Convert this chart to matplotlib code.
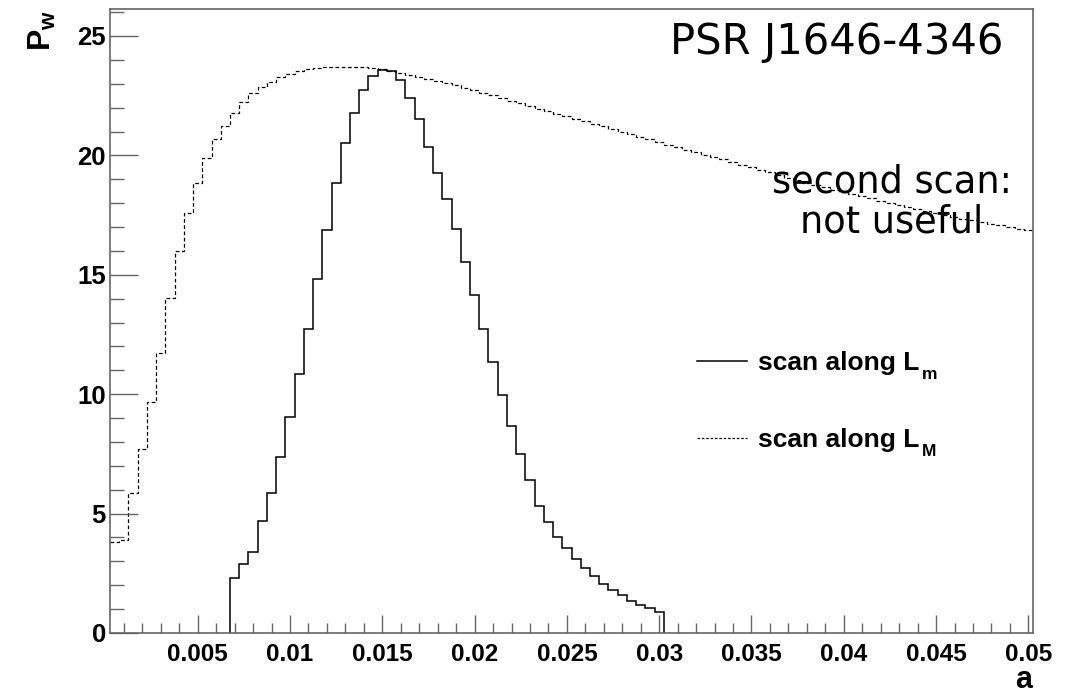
import numpy as np
import matplotlib
matplotlib.use('Agg')
import matplotlib.pyplot as plt
from matplotlib.lines import Line2D
from matplotlib.ticker import MultipleLocator, FuncFormatter
from matplotlib.transforms import IdentityTransform

plt.rcParams['mathtext.fontset'] = 'custom'
plt.rcParams['mathtext.rm'] = 'Liberation Sans:bold'
plt.rcParams['mathtext.it'] = 'Liberation Sans:bold'
plt.rcParams['mathtext.bf'] = 'Liberation Sans:bold'

# histogram binning (bin width 0.0005)
bin_width = 0.0005
scan_m_start = 0.00675
scan_M_start = 0.00025

# scan along L_m (solid), 47 bins
scan_m = [2.29, 2.88, 3.41, 4.68, 5.88, 7.36, 9.06, 10.85, 12.74, 14.82,
          16.89, 18.84, 20.53, 21.78, 22.75, 23.32, 23.58, 23.53, 23.16, 22.42,
          21.51, 20.35, 19.28, 18.16, 16.91, 15.55, 14.14, 12.73, 11.34, 9.98,
          8.68, 7.51, 6.39, 5.33, 4.66, 4.03, 3.56, 3.11, 2.74, 2.40,
          2.05, 1.80, 1.58, 1.35, 1.17, 1.03, 0.89]

# scan along L_M (dashed), 100 bins
scan_M = [3.82, 3.90, 5.86, 7.70, 9.67, 11.73, 14.04, 15.98, 17.60, 18.84,
          19.89, 20.67, 21.24, 21.76, 22.22, 22.60, 22.85, 23.09, 23.27, 23.41,
          23.53, 23.62, 23.66, 23.69, 23.71, 23.72, 23.72, 23.70, 23.67, 23.62,
          23.55, 23.46, 23.38, 23.29, 23.20, 23.11, 23.03, 22.93, 22.83, 22.72,
          22.62, 22.51, 22.40, 22.29, 22.18, 22.07, 21.96, 21.86, 21.75, 21.64,
          21.54, 21.43, 21.32, 21.21, 21.10, 20.99, 20.88, 20.78, 20.67, 20.56,
          20.45, 20.34, 20.23, 20.13, 20.03, 19.93, 19.83, 19.72, 19.61, 19.50,
          19.39, 19.29, 19.18, 19.07, 18.96, 18.86, 18.76, 18.67, 18.57, 18.48,
          18.38, 18.29, 18.20, 18.10, 18.00, 17.92, 17.84, 17.76, 17.67, 17.59,
          17.51, 17.43, 17.35, 17.28, 17.21, 17.14, 17.07, 17.00, 16.93, 16.86]

x_ticks = [0.005, 0.01, 0.015, 0.02, 0.025, 0.03, 0.035, 0.04, 0.045, 0.05]
y_ticks = [0, 5, 10, 15, 20, 25]
leg_labels = ['scan along L', 'scan along L']
leg_subs = ['m', 'M']

edges_m = scan_m_start + bin_width * np.arange(len(scan_m) + 1)
edges_M = scan_M_start + bin_width * np.arange(len(scan_M) + 1)

fig = plt.figure(figsize=(10.65, 6.94), dpi=100)
ax = fig.add_axes([110/1065, 61/694, 923/1065, 624/694])

ax.stairs(scan_m, edges_m, baseline=0, color='black', lw=1.1)
ax.stairs(scan_M, edges_M, baseline=None, color='black', lw=0.9,
          linestyle=(0, (3, 2)))

ax.set_xlim(0.00025, 0.05025)
ax.set_ylim(0, 26.13)

frame_col = '#666666'
for s in ax.spines.values():
    s.set_color(frame_col)
    s.set_linewidth(1.2)

ax.set_xticks(x_ticks)
ax.set_yticks(y_ticks)
ax.xaxis.set_minor_locator(MultipleLocator(0.001))
ax.yaxis.set_minor_locator(MultipleLocator(1))
ax.xaxis.set_major_formatter(FuncFormatter(lambda v, p: '%g' % v))
ax.tick_params(axis='x', which='major', direction='in', length=13, width=1, color=frame_col, pad=7)
ax.tick_params(axis='x', which='minor', direction='in', length=7, width=1, color=frame_col)
ax.tick_params(axis='y', which='major', direction='in', length=20, width=1, color=frame_col, pad=3)
ax.tick_params(axis='y', which='minor', direction='in', length=10, width=1, color=frame_col)
for lab in ax.get_xticklabels():
    lab.set_fontfamily('Liberation Sans')
    lab.set_fontweight('bold')
    lab.set_fontsize(17.5)
for lab in ax.get_yticklabels():
    lab.set_fontfamily('Liberation Sans')
    lab.set_fontweight('bold')
    lab.set_fontsize(18.5)

# axis titles, ROOT style at the axis ends
fig.text(42/1065, 1 - 10/694, r'$\mathrm{P_w}$', rotation=90, ha='center', va='top', fontsize=23)
fig.text(1032/1065, 6/694, 'a', ha='right', va='baseline', fontsize=22,
         fontfamily='Liberation Sans', fontweight='bold')

ax.text(1003/1065, 1 - 42/694, 'PSR J1646-4346', transform=fig.transFigure,
        ha='right', va='center', fontsize=30, fontfamily='DejaVu Sans')
ax.text(892/1065, 1 - 202/694, 'second scan:\nnot useful', transform=fig.transFigure,
        ha='center', va='center', fontsize=26.5, fontfamily='DejaVu Sans', linespacing=1.08)

handles = [Line2D([], [], color='black', lw=1.1),
           Line2D([], [], color='black', lw=0.9, linestyle=(0, (2, 1.5)))]
leg = ax.legend(handles, leg_labels, loc='upper left', bbox_to_anchor=(0.61, 0.49),
                frameon=False, prop={'family': 'Liberation Sans', 'weight': 'bold', 'size': 19},
                handlelength=1.9, handletextpad=0.42, labelspacing=2.0)

# ROOT-like subscripts after the legend labels
fig.canvas.draw()
rend = fig.canvas.get_renderer()
for t, sub in zip(leg.get_texts(), leg_subs):
    bb = t.get_window_extent(rend)
    fig.text(bb.x1 + 2, bb.y0 - 4, sub, transform=IdentityTransform(),
             ha='left', va='baseline', fontsize=12.5,
             fontfamily='Liberation Sans', fontweight='bold')

fig.savefig('out.png', dpi=100)
